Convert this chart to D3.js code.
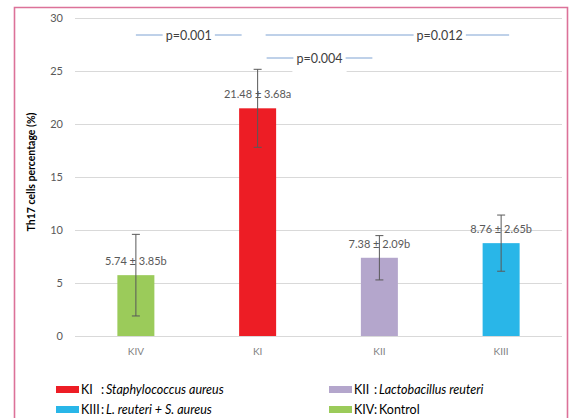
<!DOCTYPE html>
<html>
<head>
<meta charset="utf-8">
<script src="https://cdn.jsdelivr.net/npm/d3@7"></script>
<style>
  html, body { margin: 0; padding: 0; background: #fff; }
  svg { display: block; font-family: Lato, "Open Sans", sans-serif; }
</style>
</head>
<body>
<svg id="chart" width="573" height="418"></svg>
<script>
// Th17 cell percentage per group (mean ± SD) with significance letters
const categories = ["KIV", "KI", "KII", "KIII"];
const means = [5.74, 21.48, 7.38, 8.76];
const sds = [3.85, 3.68, 2.09, 2.65];
const letters = ["b", "a", "b", "b"];
const barColors = ["#9bcb5a", "#ed1d25", "#b4a6cc", "#29b6e8"];
const yTicks = [0, 5, 10, 15, 20, 25, 30];

// Pairwise comparisons shown above the bars
const compFrom = ["KIV", "KI", "KI"];
const compTo = ["KI", "KIII", "KII"];
const compLabels = ["p=0.001", "p=0.012", "p=0.004"];
const compRows = [0, 0, 1];

// Legend entries: group code and description
const legendCodes = ["KI", "KII", "KIII", "KIV"];
const legendNames = ["Staphylococcus aureus", "Lactobacillus reuteri", "L. reuteri + S. aureus", "Kontrol"];
const legendItalic = [true, true, true, false];

const svg = d3.select("#chart");

// frame
svg.append("path")
  .attr("d", "M14.5,420 V7.5 H567.5 V420")
  .attr("fill", "none").attr("stroke", "#dc7299").attr("stroke-width", 1.6);

const plot = { left: 75, right: 562, top: 18, bottom: 336 };

const x = d3.scaleBand().domain(categories).range([plot.left, plot.right]).paddingInner(0).paddingOuter(0);
const y = d3.scaleLinear().domain([0, 30]).range([plot.bottom, plot.top]);
const barW = 37;

// gridlines and y tick labels
const yAxis = d3.axisLeft(y).tickValues(yTicks).tickSize(-(plot.right - plot.left)).tickPadding(12);
const gy = svg.append("g").attr("transform", `translate(${plot.left},0)`).call(yAxis);
gy.select(".domain").remove();
gy.selectAll(".tick line").attr("stroke", "#d9d9d9").attr("stroke-width", 1);
gy.selectAll(".tick text").attr("fill", "#595959").style("font-size", "11px")
  .style("font-family", "Lato, sans-serif");

// x axis labels
const xAxis = d3.axisBottom(x).tickSize(0).tickPadding(12);
const gx = svg.append("g").attr("transform", `translate(0,${plot.bottom})`).call(xAxis);
gx.select(".domain").remove();
gx.selectAll(".tick text").attr("fill", "#7f7f7f").style("font-size", "10px")
  .style("font-family", "Lato, sans-serif");

// y title
svg.append("text")
  .attr("transform", `translate(35,${(plot.top + plot.bottom) / 2 - 5}) rotate(-90)`)
  .attr("text-anchor", "middle")
  .attr("fill", "#000")
  .style("font-size", "10.5px").style("font-weight", "bold")
  .text("Th17 cells percentage (%)");

// bars
const rows = categories.map((c, i) => ({ c, m: means[i], sd: sds[i], l: letters[i], col: barColors[i] }));
const cx = c => x(c) + x.bandwidth() / 2;

svg.append("g").selectAll("rect").data(rows).join("rect")
  .attr("x", d => cx(d.c) - barW / 2)
  .attr("y", d => y(d.m))
  .attr("width", barW)
  .attr("height", d => y(0) - y(d.m))
  .attr("fill", d => d.col);

// mean labels
svg.append("g").selectAll("text").data(rows).join("text")
  .attr("x", d => cx(d.c))
  .attr("y", d => y(d.m) - 10)
  .attr("text-anchor", "middle")
  .attr("fill", "#595959")
  .style("font-size", "11px")
  .text(d => `${d.m.toFixed(2)} ± ${d.sd.toFixed(2)}${d.l}`);

// error bars
const eb = svg.append("g").attr("stroke", "#595959").attr("stroke-width", 1);
rows.forEach(d => {
  const x0 = cx(d.c), y1 = y(d.m + d.sd), y2 = y(d.m - d.sd);
  eb.append("line").attr("x1", x0).attr("x2", x0).attr("y1", y1).attr("y2", y2);
  eb.append("line").attr("x1", x0 - 4).attr("x2", x0 + 4).attr("y1", y1).attr("y2", y1);
  eb.append("line").attr("x1", x0 - 4).attr("x2", x0 + 4).attr("y1", y2).attr("y2", y2);
});

// significance lines
const rowY = [35, 58];
const ends = [[0, -16], [8, 8], [9, -7]];
const textFrac = [0.5, 0.715, 0.5];
const sig = svg.append("g");
compLabels.forEach((lab, i) => {
  const x1 = cx(compFrom[i]) + ends[i][0];
  const x2 = cx(compTo[i]) + ends[i][1];
  const yy = rowY[compRows[i]];
  const tx = x1 + (x2 - x1) * textFrac[i];
  const t = sig.append("text").attr("x", tx).attr("y", yy + 4.5)
    .attr("text-anchor", "middle").attr("fill", "#404040")
    .style("font-size", "12.5px").text(lab);
  const w = t.node().getComputedTextLength();
  if (compRows[i] === 1) {
    sig.insert("rect", "text").attr("x", tx - w / 2 - 4).attr("y", yy - 10)
      .attr("width", w + 8).attr("height", 24).attr("fill", "#fff");
  }
  sig.append("line").attr("x1", x1).attr("x2", tx - w / 2 - 3).attr("y1", yy).attr("y2", yy)
    .attr("stroke", "#7ea3d3").attr("stroke-width", 1);
  sig.append("line").attr("x1", tx + w / 2 + 3).attr("x2", x2).attr("y1", yy).attr("y2", yy)
    .attr("stroke", "#7ea3d3").attr("stroke-width", 1);
});

// legend
const legCol = [56, 329];
const legRow = [394, 414];
const colorOf = code => barColors[categories.indexOf(code)];
const leg = svg.append("g").style("font-size", "12.5px");
legendCodes.forEach((code, i) => {
  const lx = legCol[i % 2], ly = legRow[Math.floor(i / 2)];
  leg.append("rect").attr("x", lx).attr("y", ly - 8).attr("width", 23).attr("height", 7)
    .attr("fill", colorOf(code));
  const t = leg.append("text").attr("y", ly).attr("fill", "#000");
  t.append("tspan").attr("x", lx + 25).text(code);
  t.append("tspan").attr("x", lx + 45).text(":");
  t.append("tspan").attr("x", lx + 50)
    .style("font-style", legendItalic[i] ? "italic" : "normal").text(legendNames[i]);
});
</script>
</body>
</html>
